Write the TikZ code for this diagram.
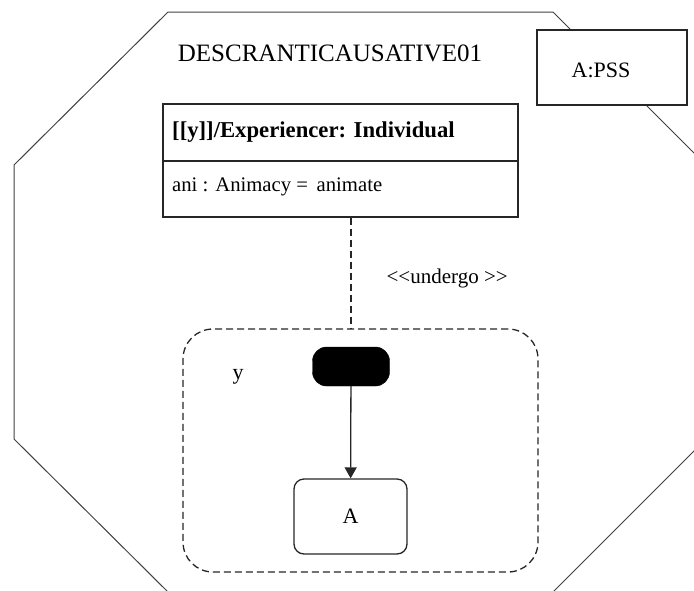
\documentclass[tikz,border=0pt]{standalone}
\usepackage{fontspec}
\setmainfont{Liberation Serif}
\usetikzlibrary{arrows.meta}
\begin{document}
\begin{tikzpicture}[x=1pt,y=-1pt,
  frame/.style={draw=black!75, line width=1pt},
  umlbox/.style={draw=black!85, line width=1.3pt, fill=white, inner sep=0pt},
  dashline/.style={draw=black!85, line width=1.3pt, dash pattern=on 7pt off 4pt},
  lbl/.style={font=\fontsize{21}{24}\selectfont, inner sep=0pt},
  statebox/.style={draw=black!85, line width=1.3pt, rounded corners=10pt, inner sep=0pt}
]
\useasboundingbox (0,0) rectangle (694,590);
% octagonal frame, partly running off the page
\begin{scope}
  \clip (0,0) rectangle (694,590);
  \draw[frame] (168,12) -- (553,12) -- (706,165) -- (706,439) -- (553,592)
    -- (168,592) -- (14,439) -- (14,165) -- cycle;
\end{scope}

\node[lbl, font=\fontsize{25}{29}\selectfont] (title) at (330,53) {DESCRANTICAUSATIVE01};

% package tag
\node[umlbox, minimum width=150pt, minimum height=75pt] (pss) at (612,67.5) {};
\node[lbl, font=\fontsize{22}{25}\selectfont] (psslabel) at (601,70) {A:PSS};

% class box
\node[umlbox, minimum width=355pt, minimum height=57pt] (hdr) at (340.5,132.5) {};
\node[umlbox, minimum width=355pt, minimum height=56pt] (attr) at (340.5,189) {};
\node[lbl, anchor=west, font=\fontsize{22.7}{25}\selectfont\bfseries] (hdrtext) at (172,132) {[[y]]/Experiencer: Individual};
\node[lbl, anchor=west, font=\fontsize{20.7}{23}\selectfont] (attrtext) at (172,187) {ani : Animacy = \,animate};

% state region
\node[dashline, rounded corners=30pt, minimum width=355pt, minimum height=243pt, inner sep=0pt] (region) at (360.5,450.5) {};
\node[fill=black, draw=black, rounded corners=14pt, minimum width=77pt, minimum height=39pt, inner sep=0pt] (init) at (351,366.5) {};
\node[statebox, minimum width=113pt, minimum height=75pt] (stA) at (350.5,516.5) {};
\node[lbl, font=\fontsize{22}{25}\selectfont] (stAlabel) at (stA) {A};
\node[lbl, font=\fontsize{22}{25}\selectfont] (ylabel) at (238,377) {y};

% connectors
\draw[dashline] (attr.south -| init) -- node[lbl, pos=0.55, right=35pt] (undergo) {{<}{<}undergo {>}{>}} (region.north -| init);
\draw[draw=black!85, line width=1.3pt, -{Triangle[length=11pt,width=12pt]}] (init) -- (stA);
\end{tikzpicture}
\end{document}
